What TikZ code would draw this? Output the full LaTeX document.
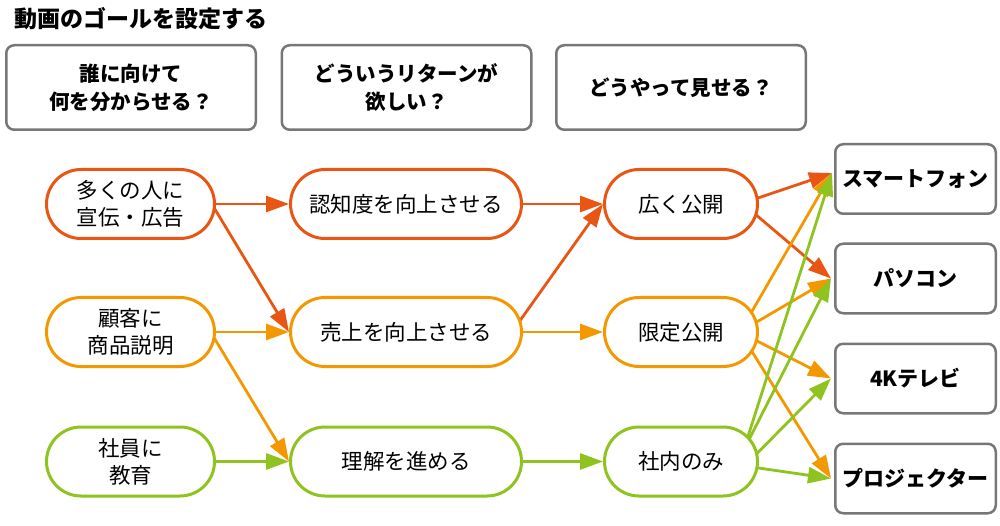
\documentclass[tikz,border=0pt]{standalone}
\usepackage{fontspec}
\setmainfont{Noto Sans CJK JP}
\usetikzlibrary{shapes.misc,arrows.meta,calc,backgrounds}
\definecolor{cR}{HTML}{E95513}
\definecolor{cO}{HTML}{F39800}
\definecolor{cG}{HTML}{8FC31F}
\definecolor{cK}{HTML}{777777}
\begin{document}
\begin{tikzpicture}[x=1pt,y=-1pt,
  oval/.style={rounded rectangle, draw, line width=3pt, fill=white, minimum height=69pt, inner sep=0pt, align=center, font=\fontsize{21.5}{27}\selectfont},
  colA/.style={oval, minimum width=168pt},
  colB/.style={oval, minimum width=231pt},
  colC/.style={oval, minimum width=153pt},
  qbox/.style={draw=cK, line width=2.5pt, rounded corners=8pt, fill=white, minimum width=249.5pt, minimum height=84.5pt, inner sep=0pt, align=center, font=\bfseries\fontsize{20.5}{28}\selectfont},
  dbox/.style={draw=cK, line width=2.5pt, rounded corners=8pt, fill=white, minimum width=160.5pt, minimum height=69.5pt, inner sep=0pt, align=center, font=\bfseries\fontsize{21}{26}\selectfont},
  arr/.style={line width=2.8pt, -{Triangle[length=23pt,width=16pt]}}]
\path[use as bounding box] (0,0) rectangle (1000,526);
\node[anchor=west, inner sep=0pt, font=\bfseries\fontsize{23}{23}\selectfont] (title) at (14,19) {動画のゴールを設定する};
\node[qbox] (q1) at (131,87.5) {誰に向けて\\何を分からせる？};
\node[qbox] (q2) at (406.5,87.5) {どういうリターンが\\欲しい？};
\node[qbox] (q3) at (681,87.5) {どうやって見せる？};
% column 1
\node[colA, draw=cR] (a1) at (130.5,204) {多くの人に\\宣伝・広告};
\node[colA, draw=cO] (a2) at (130.5,332) {顧客に\\商品説明};
\node[colA, draw=cG] (a3) at (130.5,461.5) {社員に\\教育};
% column 2
\node[colB, draw=cR] (b1) at (406,204) {認知度を向上させる};
\node[colB, draw=cO] (b2) at (406,332) {売上を向上させる};
\node[colB, draw=cG] (b3) at (406,461.5) {理解を進める};
% column 3
\node[colC, draw=cR] (c1) at (681,204) {広く公開};
\node[colC, draw=cO] (c2) at (681,332) {限定公開};
\node[colC, draw=cG] (c3) at (681,461.5) {社内のみ};
% devices
\node[dbox] (d1) at (915.5,179) {スマートフォン};
\node[dbox] (d2) at (915.5,278.5) {パソコン};
\node[dbox] (d3) at (915.5,378.5) {4Kテレビ};
\node[dbox] (d4) at (915.5,478.5) {プロジェクター};
\coordinate (t1) at ($(d1.west)+(-2,-6)$);
\coordinate (t2) at ($(d2.west)+(-3,0)$);
\coordinate (t3) at ($(d3.west)+(-3,0)$);
\coordinate (t4) at ($(d4.west)+(-3,0)$);
\begin{scope}[on background layer]
\fill[white] (0,0) rectangle (1000,526);
% red
\draw[arr, cR] ($(a1.east)+(-3,0)$) -- (b1.west);
\draw[arr, cR] ($(a1.east)+(-3,2)$) -- (b2.west);
\draw[arr, cR] ($(b1.east)+(-3,0)$) -- (c1.west);
\draw[arr, cR] ($(b2.east)+(-4,-10)$) -- (c1.west);
\draw[arr, cR] ($(c1.east)+(-4,-5)$) -- (t1);
\draw[arr, cR] ($(c1.east)+(-4,10)$) -- (t2);
% orange
\draw[arr, cO] ($(a2.east)+(-3,0)$) -- (b2.west);
\draw[arr, cO] ($(a2.east)+(-3,4)$) -- (b3.west);
\draw[arr, cO] ($(b2.east)+(-3,0)$) -- (c2.west);
\draw[arr, cO] ($(c2.east)+(-8,-19)$) -- (t1);
\draw[arr, cO] ($(c2.east)+(-4,-9)$) -- (t2);
\draw[arr, cO] ($(c2.east)+(-4,8)$) -- (t3);
\draw[arr, cO] ($(c2.east)+(-8,18)$) -- (t4);
% green
\draw[arr, cG] ($(a3.east)+(-3,0)$) -- (b3.west);
\draw[arr, cG] ($(b3.east)+(-3,0)$) -- (c3.west);
\draw[arr, cG] ($(c3.east)+(-12,-22)$) -- (t1);
\draw[arr, cG] ($(c3.east)+(-12,-18)$) -- (t2);
\draw[arr, cG] ($(c3.east)+(-4,-6)$) -- (t3);
\draw[arr, cG] ($(c3.east)+(-4,6)$) -- (t4);
\end{scope}
\end{tikzpicture}
\end{document}
